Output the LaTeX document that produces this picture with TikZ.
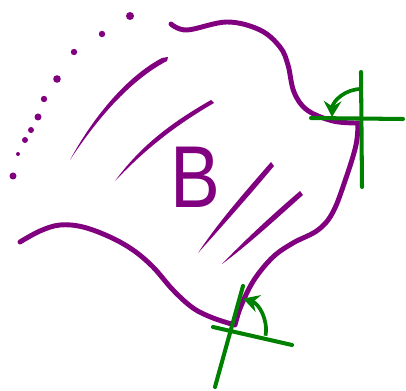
\documentclass[tikz,border=0pt]{standalone}
\usepackage{fontspec}
\setsansfont{Liberation Sans}
\usetikzlibrary{arrows.meta}
\definecolor{region}{RGB}{128,0,128}
\definecolor{axis}{RGB}{0,128,0}
\tikzset{
	boundary/.style={line width=2.8pt, region, line cap=round, line join=round},
	hatch/.style={fill=region},
	tangent/.style={line width=2.3pt, axis, line cap=round},
	turn/.style={line width=2.1pt, axis, -{Stealth[length=9pt, width=10pt, inset=3pt]}}
}
\begin{document}
\begin{tikzpicture}[x=0.02cm, y=-0.02cm]
	\useasboundingbox (0,0) rectangle (406,391);
	
	% boundary of B
	\draw[boundary] plot[smooth, tension=.6] coordinates {(171,24) (187,30) (227,22) (260,30) (280,47) (288,65) (294,92) (307,110) (333,121) (358,123)}
		-- plot[smooth, tension=.6] coordinates {(358,123) (356,145) (346,178) (333,212) (318,230) (293,243) (273,257) (254,280) (241,306) (235,325)}
		-- plot[smooth, tension=.6] coordinates {(235,325) (213,318) (193,308) (173,290) (153,267) (133,250) (110,237) (83,227) (60,225) (40,231) (20,242)};
	
	% dots
	\foreach \x/\y/\r in {130/16/4, 102/34/3.2, 74/52/3.2, 57/79/3.8, 44/99/3.2, 38/117/3.5, 31/130/3, 25/140/3, 18/154/2, 13/176/3.5}
		\fill[region] (\x,\y) circle (\r);
	
	% hatching
	\fill[hatch] (70,160) .. controls (100,105) and (135,72) .. (162,58) -- (168,57) -- (167,61) .. controls (138,76) and (104,108) .. (70,160) -- cycle;
	\fill[hatch] (115,181) .. controls (145,140) and (180,118) .. (211,100) -- (214,103) .. controls (183,121) and (150,144) .. (115,181) -- cycle;
	\fill[hatch] (198,253) .. controls (220,220) and (245,192) .. (271,162) -- (274,166) .. controls (249,196) and (224,224) .. (198,253) -- cycle;
	\fill[hatch] (222,264) .. controls (245,240) and (272,215) .. (300,191) -- (303,195) .. controls (276,219) and (249,244) .. (222,264) -- cycle;
	
	\node[region, font=\sffamily\fontsize{50}{50}\selectfont, xscale=.85] (B) at (195,177) {B};
	
	% right corner
	\coordinate (P) at (361,118);
	\draw[tangent] (361,72) -- (362,187);
	\draw[tangent] (311,118) -- (403,119);
	\draw[turn] (P) ++(-88:29) arc (-88:-178:29);
	
	% lower corner
	\coordinate (Q) at (233,330);
	\draw[tangent] (215,387) -- (243,286);
	\draw[tangent] (213,327) -- (292,345);
	\draw[turn] (Q) ++(10:33) arc (10:-72:33);
\end{tikzpicture}
\end{document}
